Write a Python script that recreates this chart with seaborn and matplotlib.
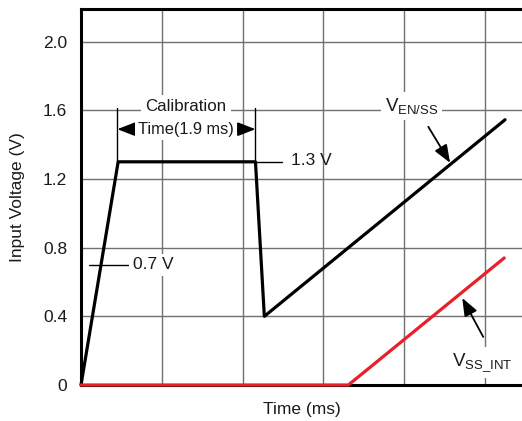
import matplotlib
matplotlib.use("Agg")
import matplotlib.pyplot as plt
import pandas as pd
import seaborn as sns

# V_EN/SS trace (time in ms, volts)
en_time = [0, 0.46, 2.16, 2.27, 5.25]
en_volt = [0, 1.3, 1.3, 0.4, 1.545]

# V_SS_INT trace
ss_time = [0, 3.31, 5.24]
ss_volt = [0, 0, 0.74]

y_ticks = [0, 0.4, 0.8, 1.2, 1.6, 2.0]
y_labels = ["0", "0.4", "0.8", "1.2", "1.6", "2.0"]
x_grid = [1, 2, 3, 4, 5]

sns.set_theme(style="whitegrid")
plt.rcParams["font.family"] = ["Liberation Sans", "DejaVu Sans"]

TXT = "#1a1a1a"

fig = plt.figure(figsize=(5.22, 4.21), dpi=100)
ax = fig.add_axes([81 / 522, 36 / 421, 441 / 522, 376 / 421])

df_en = pd.DataFrame({"t": en_time, "v": en_volt})
df_ss = pd.DataFrame({"t": ss_time, "v": ss_volt})

sns.lineplot(data=df_en, x="t", y="v", ax=ax, color="black", lw=2.3,
             estimator=None, sort=False, zorder=4, clip_on=False)
sns.lineplot(data=df_ss, x="t", y="v", ax=ax, color="#e8202a", lw=2.3,
             estimator=None, sort=False, zorder=5, clip_on=False)

ax.set_xlim(0, 5.46)
ax.set_ylim(0, 2.19)
ax.set_xticks(x_grid)
ax.set_xticklabels([])
ax.set_yticks(y_ticks)
ax.set_yticklabels(y_labels)
ax.tick_params(axis="y", length=0, labelsize=12.5, colors=TXT, pad=10)
ax.tick_params(axis="x", length=0, pad=2)
ax.grid(True, color="#707070", lw=1.0)
ax.set_axisbelow(True)

for side in ["left", "top", "bottom"]:
    ax.spines[side].set_visible(True)
    ax.spines[side].set_color("black")
    ax.spines[side].set_linewidth(2.2)
ax.spines["right"].set_visible(False)

ax.set_xlabel("Time (ms)", fontsize=12.5, color=TXT, labelpad=10)
ax.set_ylabel("Input Voltage (V)", fontsize=12.5, color=TXT, labelpad=13)

box = dict(facecolor="white", edgecolor="none", pad=3)
arrow = dict(arrowstyle="-|>,head_length=0.9,head_width=0.35", color="black",
             lw=1.3, mutation_scale=12, shrinkA=0, shrinkB=0)

# calibration time markers
ax.plot([0.45, 0.45], [1.3, 1.615], color="black", lw=1.0, zorder=3)
ax.plot([2.16, 2.16], [1.3, 1.615], color="black", lw=1.0, zorder=3)
ax.annotate("", xy=(0.45, 1.49), xytext=(1.3, 1.49), arrowprops=arrow, zorder=3)
ax.annotate("", xy=(2.16, 1.49), xytext=(1.3, 1.49), arrowprops=arrow, zorder=3)
ax.text(1.3, 1.62, "Calibration", ha="center", va="center", fontsize=12.2,
        color=TXT, bbox=box, zorder=6)
ax.text(1.3, 1.49, "Time(1.9 ms)", ha="center", va="center", fontsize=11.8,
        color=TXT, bbox=dict(facecolor="white", edgecolor="none", pad=2.5), zorder=6)

# 1.3 V label
ax.plot([2.16, 2.49], [1.3, 1.3], color="black", lw=1.0, zorder=3)
ax.text(2.6, 1.31, "1.3 V", ha="left", va="center", fontsize=12.5, color=TXT)

# 0.7 V label
ax.plot([0.1, 0.63], [0.7, 0.7], color="black", lw=1.0, zorder=3)
ax.text(0.64, 0.7, "0.7 V", ha="left", va="center", fontsize=12.5, color=TXT,
        bbox=dict(facecolor="white", edgecolor="none", pad=2.5), zorder=6)

# V_EN/SS label
ax.text(4.09, 1.625, r"$\mathregular{V_{EN/SS}}$", ha="center", va="center",
        fontsize=13.5, color=TXT, bbox=box, zorder=6)
ax.annotate("", xy=(4.57, 1.294), xytext=(4.30, 1.504), arrowprops=arrow, zorder=6)

# V_SS_INT label
ax.text(4.97, 0.13, r"$\mathregular{V_{SS\_INT}}$", ha="center", va="center",
        fontsize=13.5, color=TXT, bbox=box, zorder=6)
ax.annotate("", xy=(4.72, 0.507), xytext=(4.98, 0.28), arrowprops=arrow, zorder=6)

fig.savefig("out.png", dpi=100)
